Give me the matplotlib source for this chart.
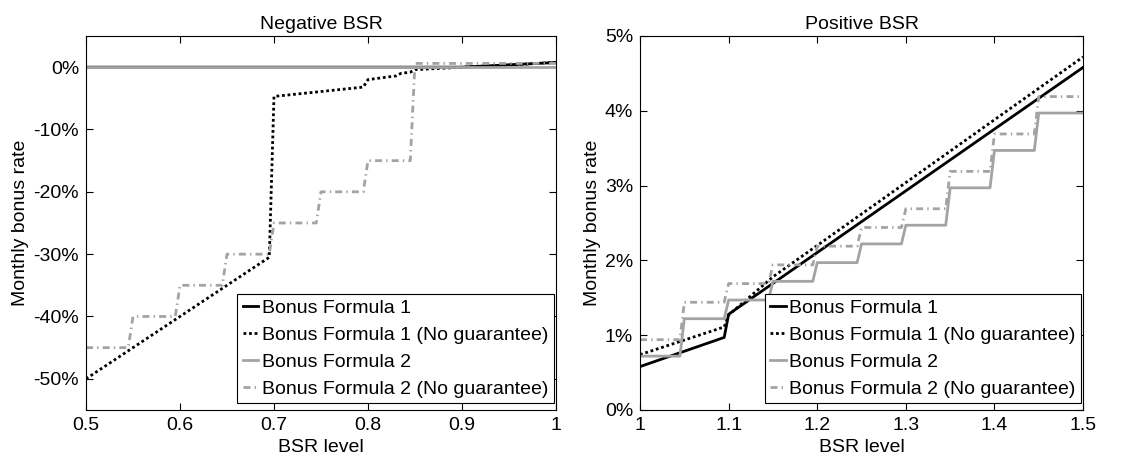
import matplotlib as mpl
mpl.use("Agg")
import matplotlib.pyplot as plt
import numpy as np
from matplotlib.ticker import FuncFormatter, FixedLocator


# Negative BSR panel (values in %)
neg_f1_x = [0.5, 0.9, 1.0]
neg_f1_y = [0.0, 0.0, 0.75]

neg_f1ng_x = [0.5, 0.695, 0.7, 0.795, 0.8, 0.83, 0.835, 0.845, 0.85, 1.0]
neg_f1ng_y = [-50.0, -30.5, -4.7, -3.2, -2.0, -1.4, -1.0, -0.8, -0.4, 0.75]

neg_f2_x = [0.5, 1.0]
neg_f2_y = [0.0, 0.0]

neg_f2ng_edges = [0.5, 0.55, 0.6, 0.65, 0.7, 0.75, 0.8, 0.85, 1.0]
neg_f2ng_levels = [-45.0, -40.0, -35.0, -30.0, -25.0, -20.0, -15.0, 0.6]

# Positive BSR panel (values in %)
pos_f1_x = [1.0, 1.095, 1.1, 1.5]
pos_f1_y = [0.58, 0.97, 1.28, 4.58]

pos_f1ng_x = [1.0, 1.095, 1.1, 1.15, 1.5]
pos_f1ng_y = [0.74, 1.11, 1.27, 1.78, 4.72]

pos_edges = [1.0, 1.05, 1.1, 1.15, 1.2, 1.25, 1.3, 1.35, 1.4, 1.45, 1.5]
pos_f2_levels = [0.72, 1.22, 1.47, 1.72, 1.97, 2.22, 2.47, 2.97, 3.47, 3.97]
pos_f2ng_levels = [0.94, 1.44, 1.69, 1.94, 2.19, 2.44, 2.69, 3.19, 3.69, 4.19]

labels = ["Bonus Formula 1", "Bonus Formula 1 (No guarantee)",
	"Bonus Formula 2", "Bonus Formula 2 (No guarantee)"]

neg_xticks = [0.5, 0.6, 0.7, 0.8, 0.9, 1.0]
neg_yticks = [-50, -40, -30, -20, -10, 0]
pos_xticks = [1.0, 1.1, 1.2, 1.3, 1.4, 1.5]
pos_yticks = [0, 1, 2, 3, 4, 5]

GRAY = "#a3a3a3"
FS = 14


def steps(edges, levels):

	# sampled grid -> each level held until the next edge
	xs = []
	ys = []
	for i in range(len(levels)):
		xs.append(edges[i])
		ys.append(levels[i])
		if (i < len(levels) - 1):
			xs.append(edges[i + 1] - 0.005)
		else:
			xs.append(edges[i + 1])
		#end_if
		ys.append(levels[i])
	#end_for

	return np.array(xs), np.array(ys) / 100.0

#end_def


def style_axes(ax, title, xticks, yticks, xlim, ylim):

	ax.set_xlim(xlim)
	ax.set_ylim(ylim)
	ax.xaxis.set_major_locator(FixedLocator(xticks))
	ax.yaxis.set_major_locator(FixedLocator(np.array(yticks) / 100.0))
	ax.xaxis.set_major_formatter(FuncFormatter(lambda v, p: "%g" % v))
	ax.yaxis.set_major_formatter(FuncFormatter(lambda v, p: "%d%%" % round(v * 100)))
	ax.tick_params(direction="in", top=True, right=True, length=5, width=0.8,
		labelsize=FS, pad=5)
	for s in ax.spines.values():
		s.set_linewidth(0.8)
		s.set_color("black")
	#end_for
	ax.set_title(title, fontsize=FS, pad=5)
	ax.set_xlabel("BSR level", fontsize=FS, labelpad=4)
	ax.set_ylabel("Monthly bonus rate", fontsize=FS, labelpad=3)

	leg = ax.legend(labels, loc="lower right", bbox_to_anchor=(0.996, 0.018),
		borderaxespad=0, fontsize=FS, fancybox=False, edgecolor="black",
		framealpha=1, handlelength=0.8, handletextpad=0.2, labelspacing=0.48,
		borderpad=0.28)
	leg.get_frame().set_linewidth(0.8)

	return

#end_def


def main():

	plt.rcParams["font.family"] = ["Liberation Sans", "DejaVu Sans"]

	fig = plt.figure(figsize=(11.36, 4.62), dpi=100)
	ax1 = fig.add_axes([0.0757, 0.1126, 0.4137, 0.8095])
	ax2 = fig.add_axes([0.5634, 0.1126, 0.39, 0.8095])

	dot = (0, (1, 1))
	dashdot = (0, (2.5, 1.5, 0.5, 1.5))

	# Negative BSR
	ax1.plot(neg_f1_x, np.array(neg_f1_y) / 100.0, color="black", lw=2)
	ax1.plot(neg_f1ng_x, np.array(neg_f1ng_y) / 100.0, color="black", lw=2, linestyle=dot)
	ax1.plot(neg_f2_x, np.array(neg_f2_y) / 100.0, color=GRAY, lw=2)
	x, y = steps(neg_f2ng_edges, neg_f2ng_levels)
	ax1.plot(x, y, color=GRAY, lw=2, linestyle=dashdot)
	style_axes(ax1, "Negative BSR", neg_xticks, neg_yticks, (0.5, 1.0), (-0.55, 0.05))

	# Positive BSR
	ax2.plot(pos_f1_x, np.array(pos_f1_y) / 100.0, color="black", lw=2)
	ax2.plot(pos_f1ng_x, np.array(pos_f1ng_y) / 100.0, color="black", lw=2, linestyle=dot)
	x, y = steps(pos_edges, pos_f2_levels)
	ax2.plot(x, y, color=GRAY, lw=2)
	x, y = steps(pos_edges, pos_f2ng_levels)
	ax2.plot(x, y, color=GRAY, lw=2, linestyle=dashdot)
	style_axes(ax2, "Positive BSR", pos_xticks, pos_yticks, (1.0, 1.5), (0.0, 0.05))

	fig.savefig("out.png", dpi=100)

	return

#end_def


main()
